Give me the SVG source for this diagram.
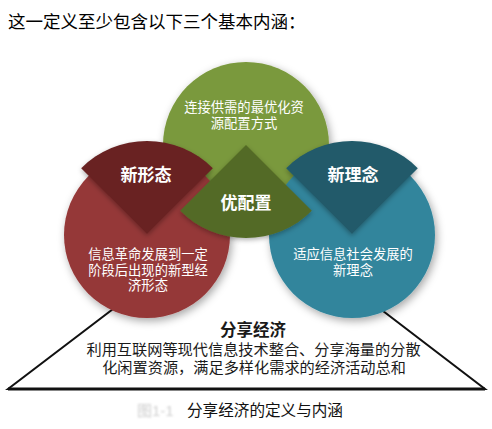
<svg xmlns="http://www.w3.org/2000/svg" width="492" height="429" viewBox="0 0 492 429">
<defs>
<filter id="sh" x="-30%" y="-30%" width="160%" height="160%">
<feDropShadow dx="2" dy="3" stdDeviation="4" flood-color="#000" flood-opacity="0.35"/>
</filter>
<filter id="wsh" x="-30%" y="-30%" width="160%" height="160%">
<feDropShadow dx="0" dy="2" stdDeviation="2.5" flood-color="#000" flood-opacity="0.3"/>
</filter>
<filter id="blur"><feGaussianBlur stdDeviation="1.2"/></filter>
<style>
text{font-family:"Liberation Sans","Noto Sans CJK SC",sans-serif;}
.w{fill:#fff;font-size:13.3px;text-anchor:middle;}
.lbl{fill:#fff;font-size:17px;font-weight:bold;text-anchor:middle;}
.b{fill:#1a1a1a;text-anchor:middle;}
</style>
</defs>
<rect width="492" height="429" fill="#fff"/>
<text x="8" y="28" font-size="17.5" fill="#000">这一定义至少包含以下三个基本内涵：</text>

<g id="connectors">
<polygon points="8,389 485,389 247,207" fill="#fff" stroke="#111" stroke-width="2" stroke-linejoin="miter"/>
<line x1="8" y1="389" x2="485" y2="389" stroke="#111" stroke-width="3"/>
</g>

<g id="green-circle"><circle cx="246" cy="145" r="83" fill="#7a993c" filter="url(#sh)"/></g>
<g id="red-circle"><circle cx="147" cy="235" r="83" fill="#953737" filter="url(#sh)"/></g>
<g id="blue-circle"><circle cx="352" cy="235" r="83" fill="#31859c" filter="url(#sh)"/></g>

<g id="red-wedge"><path d="M147,234 L81.2,168.2 A93,93 0 0 1 212.8,168.2 Z" fill="#692323" filter="url(#wsh)"/>
<text class="lbl" x="146" y="181">新形态</text></g>
<g id="blue-wedge"><path d="M352,234 L286.2,168.2 A93,93 0 0 1 417.8,168.2 Z" fill="#215a6a" filter="url(#wsh)"/>
<text class="lbl" x="353" y="181">新理念</text></g>
<g id="green-wedge"><path d="M246,145 L311.8,210.8 A93,93 0 0 1 180.2,210.8 Z" fill="#536b27" filter="url(#wsh)"/>
<text class="lbl" x="246" y="209">优配置</text></g>

<g id="green-text">
<text class="w" font-size="13.5"><tspan x="244" y="112">连接供需的最优化资</tspan><tspan x="244" y="128">源配置方式</tspan></text>
</g>
<g id="red-text">
<text class="w"><tspan x="148" y="259">信息革命发展到一定</tspan><tspan x="148" y="274.5">阶段后出现的新型经</tspan><tspan x="148" y="290">济形态</tspan></text>
</g>
<g id="blue-text">
<text class="w"><tspan x="353" y="259">适应信息社会发展的</tspan><tspan x="353" y="274.5">新理念</tspan></text>
</g>

<g id="sharing-economy">
<text class="b" x="253" y="336" font-size="16.5" font-weight="bold">分享经济</text>
<text class="b" font-size="15.2"><tspan x="253.5" y="355">利用互联网等现代信息技术整合、分享海量的分散</tspan><tspan x="254" y="373">化闲置资源，满足多样化需求的经济活动总和</tspan></text>
</g>

<text x="137" y="416" font-size="15" fill="#cfcfcf" filter="url(#blur)">图1-1</text>
<text x="187" y="416" font-size="15.6" fill="#111">分享经济的定义与内涵</text>
</svg>
